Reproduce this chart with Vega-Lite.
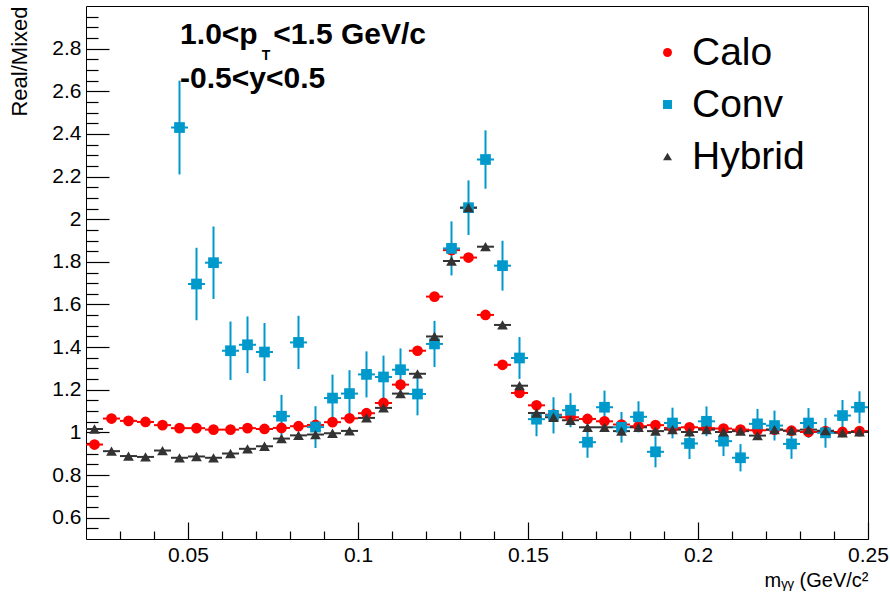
{
  "$schema": "https://vega.github.io/schema/vega-lite/v6.json",
  "width": 782,
  "height": 533,
  "autosize": {"type": "none"},
  "padding": {"left": 86, "top": 6, "right": 22, "bottom": 54},
  "background": "white",
  "config": {
    "view": {"stroke": "black", "strokeWidth": 1},
    "font": "Liberation Sans",
    "axis": {"grid": false, "domain": false, "tickColor": "black", "labelColor": "black", "titleColor": "black", "labelFont": "Liberation Sans", "titleFont": "Liberation Sans", "titleFontWeight": "normal"},
    "legend": {"orient": "none", "legendX": 562, "legendY": 27, "title": null, "labelFontSize": 39, "labelFont": "Liberation Sans", "labelColor": "black", "symbolSize": 80, "symbolStrokeWidth": 0, "rowPadding": 12, "labelOffset": 5, "labelLimit": 400}
  },
  "datasets": {
    "pts": [
      {"s":"Calo","x":0.0225,"y":0.943,"ex":0.0025},
      {"s":"Calo","x":0.0275,"y":1.065,"ex":0.0025},
      {"s":"Calo","x":0.0325,"y":1.054,"ex":0.0025},
      {"s":"Calo","x":0.0375,"y":1.049,"ex":0.0025},
      {"s":"Calo","x":0.0425,"y":1.034,"ex":0.0025},
      {"s":"Calo","x":0.0475,"y":1.020,"ex":0.0025},
      {"s":"Calo","x":0.0525,"y":1.020,"ex":0.0025},
      {"s":"Calo","x":0.0575,"y":1.013,"ex":0.0025},
      {"s":"Calo","x":0.0625,"y":1.013,"ex":0.0025},
      {"s":"Calo","x":0.0675,"y":1.020,"ex":0.0025},
      {"s":"Calo","x":0.0725,"y":1.016,"ex":0.0025},
      {"s":"Calo","x":0.0775,"y":1.021,"ex":0.0025},
      {"s":"Calo","x":0.0825,"y":1.029,"ex":0.0025},
      {"s":"Calo","x":0.0875,"y":1.035,"ex":0.0025},
      {"s":"Calo","x":0.0925,"y":1.048,"ex":0.0025},
      {"s":"Calo","x":0.0975,"y":1.066,"ex":0.0025},
      {"s":"Calo","x":0.1025,"y":1.090,"ex":0.0025},
      {"s":"Calo","x":0.1075,"y":1.138,"ex":0.0025},
      {"s":"Calo","x":0.1125,"y":1.224,"ex":0.0025},
      {"s":"Calo","x":0.1175,"y":1.383,"ex":0.0025},
      {"s":"Calo","x":0.1225,"y":1.637,"ex":0.0025},
      {"s":"Calo","x":0.1275,"y":1.855,"ex":0.0025},
      {"s":"Calo","x":0.1325,"y":1.820,"ex":0.0025},
      {"s":"Calo","x":0.1375,"y":1.551,"ex":0.0025},
      {"s":"Calo","x":0.1425,"y":1.317,"ex":0.0025},
      {"s":"Calo","x":0.1475,"y":1.185,"ex":0.0025},
      {"s":"Calo","x":0.1525,"y":1.127,"ex":0.0025},
      {"s":"Calo","x":0.1575,"y":1.083,"ex":0.0025},
      {"s":"Calo","x":0.1625,"y":1.071,"ex":0.0025},
      {"s":"Calo","x":0.1675,"y":1.063,"ex":0.0025},
      {"s":"Calo","x":0.1725,"y":1.052,"ex":0.0025},
      {"s":"Calo","x":0.1775,"y":1.037,"ex":0.0025},
      {"s":"Calo","x":0.1825,"y":1.029,"ex":0.0025},
      {"s":"Calo","x":0.1875,"y":1.034,"ex":0.0025},
      {"s":"Calo","x":0.1925,"y":1.021,"ex":0.0025},
      {"s":"Calo","x":0.1975,"y":1.024,"ex":0.0025},
      {"s":"Calo","x":0.2025,"y":1.020,"ex":0.0025},
      {"s":"Calo","x":0.2075,"y":1.018,"ex":0.0025},
      {"s":"Calo","x":0.2125,"y":1.013,"ex":0.0025},
      {"s":"Calo","x":0.2175,"y":1.010,"ex":0.0025},
      {"s":"Calo","x":0.2225,"y":1.013,"ex":0.0025},
      {"s":"Calo","x":0.2275,"y":1.008,"ex":0.0025},
      {"s":"Calo","x":0.2325,"y":1.002,"ex":0.0025},
      {"s":"Calo","x":0.2375,"y":1.006,"ex":0.0025},
      {"s":"Calo","x":0.2425,"y":1.002,"ex":0.0025},
      {"s":"Calo","x":0.2475,"y":1.006,"ex":0.0025},
      {"s":"Conv","x":0.0475,"y":2.430,"ex":0.0025,"ey":0.22},
      {"s":"Conv","x":0.0525,"y":1.696,"ex":0.0025,"ey":0.17},
      {"s":"Conv","x":0.0575,"y":1.796,"ex":0.0025,"ey":0.17},
      {"s":"Conv","x":0.0625,"y":1.383,"ex":0.0025,"ey":0.137},
      {"s":"Conv","x":0.0675,"y":1.411,"ex":0.0025,"ey":0.133},
      {"s":"Conv","x":0.0725,"y":1.377,"ex":0.0025,"ey":0.136},
      {"s":"Conv","x":0.0775,"y":1.076,"ex":0.0025,"ey":0.10},
      {"s":"Conv","x":0.0825,"y":1.422,"ex":0.0025,"ey":0.125},
      {"s":"Conv","x":0.0875,"y":1.025,"ex":0.0025,"ey":0.098},
      {"s":"Conv","x":0.0925,"y":1.161,"ex":0.0025,"ey":0.11},
      {"s":"Conv","x":0.0975,"y":1.182,"ex":0.0025,"ey":0.11},
      {"s":"Conv","x":0.1025,"y":1.272,"ex":0.0025,"ey":0.108},
      {"s":"Conv","x":0.1075,"y":1.260,"ex":0.0025,"ey":0.10},
      {"s":"Conv","x":0.1125,"y":1.294,"ex":0.0025,"ey":0.10},
      {"s":"Conv","x":0.1175,"y":1.180,"ex":0.0025,"ey":0.10},
      {"s":"Conv","x":0.1225,"y":1.415,"ex":0.0025,"ey":0.108},
      {"s":"Conv","x":0.1275,"y":1.863,"ex":0.0025,"ey":0.127},
      {"s":"Conv","x":0.1325,"y":2.054,"ex":0.0025,"ey":0.128},
      {"s":"Conv","x":0.1375,"y":2.280,"ex":0.0025,"ey":0.137},
      {"s":"Conv","x":0.1425,"y":1.782,"ex":0.0025,"ey":0.117},
      {"s":"Conv","x":0.1475,"y":1.349,"ex":0.0025,"ey":0.098},
      {"s":"Conv","x":0.1525,"y":1.062,"ex":0.0025,"ey":0.08},
      {"s":"Conv","x":0.1575,"y":1.080,"ex":0.0025,"ey":0.085},
      {"s":"Conv","x":0.1625,"y":1.104,"ex":0.0025,"ey":0.08},
      {"s":"Conv","x":0.1675,"y":0.954,"ex":0.0025,"ey":0.073},
      {"s":"Conv","x":0.1725,"y":1.118,"ex":0.0025,"ey":0.078},
      {"s":"Conv","x":0.1775,"y":1.024,"ex":0.0025,"ey":0.072},
      {"s":"Conv","x":0.1825,"y":1.073,"ex":0.0025,"ey":0.073},
      {"s":"Conv","x":0.1875,"y":0.909,"ex":0.0025,"ey":0.073},
      {"s":"Conv","x":0.1925,"y":1.044,"ex":0.0025,"ey":0.072},
      {"s":"Conv","x":0.1975,"y":0.948,"ex":0.0025,"ey":0.073},
      {"s":"Conv","x":0.2025,"y":1.052,"ex":0.0025,"ey":0.07},
      {"s":"Conv","x":0.2075,"y":0.959,"ex":0.0025,"ey":0.07},
      {"s":"Conv","x":0.2125,"y":0.881,"ex":0.0025,"ey":0.064},
      {"s":"Conv","x":0.2175,"y":1.040,"ex":0.0025,"ey":0.07},
      {"s":"Conv","x":0.2225,"y":1.032,"ex":0.0025,"ey":0.07},
      {"s":"Conv","x":0.2275,"y":0.946,"ex":0.0025,"ey":0.07},
      {"s":"Conv","x":0.2325,"y":1.044,"ex":0.0025,"ey":0.07},
      {"s":"Conv","x":0.2375,"y":0.998,"ex":0.0025,"ey":0.07},
      {"s":"Conv","x":0.2425,"y":1.079,"ex":0.0025,"ey":0.073},
      {"s":"Conv","x":0.2475,"y":1.118,"ex":0.0025,"ey":0.075},
      {"s":"Hybrid","x":0.0225,"y":1.016,"ex":0.0025},
      {"s":"Hybrid","x":0.0275,"y":0.912,"ex":0.0025},
      {"s":"Hybrid","x":0.0325,"y":0.889,"ex":0.0025},
      {"s":"Hybrid","x":0.0375,"y":0.885,"ex":0.0025},
      {"s":"Hybrid","x":0.0425,"y":0.915,"ex":0.0025},
      {"s":"Hybrid","x":0.0475,"y":0.881,"ex":0.0025},
      {"s":"Hybrid","x":0.0525,"y":0.887,"ex":0.0025},
      {"s":"Hybrid","x":0.0575,"y":0.881,"ex":0.0025},
      {"s":"Hybrid","x":0.0625,"y":0.901,"ex":0.0025},
      {"s":"Hybrid","x":0.0675,"y":0.923,"ex":0.0025},
      {"s":"Hybrid","x":0.0725,"y":0.935,"ex":0.0025},
      {"s":"Hybrid","x":0.0775,"y":0.971,"ex":0.0025},
      {"s":"Hybrid","x":0.0825,"y":0.986,"ex":0.0025},
      {"s":"Hybrid","x":0.0875,"y":0.990,"ex":0.0025},
      {"s":"Hybrid","x":0.0925,"y":0.996,"ex":0.0025},
      {"s":"Hybrid","x":0.0975,"y":1.007,"ex":0.0025},
      {"s":"Hybrid","x":0.1025,"y":1.068,"ex":0.0025},
      {"s":"Hybrid","x":0.1075,"y":1.115,"ex":0.0025},
      {"s":"Hybrid","x":0.1125,"y":1.182,"ex":0.0025},
      {"s":"Hybrid","x":0.1175,"y":1.275,"ex":0.0025},
      {"s":"Hybrid","x":0.1225,"y":1.450,"ex":0.0025},
      {"s":"Hybrid","x":0.1275,"y":1.804,"ex":0.0025},
      {"s":"Hybrid","x":0.1325,"y":2.054,"ex":0.0025},
      {"s":"Hybrid","x":0.1375,"y":1.871,"ex":0.0025},
      {"s":"Hybrid","x":0.1425,"y":1.504,"ex":0.0025},
      {"s":"Hybrid","x":0.1475,"y":1.219,"ex":0.0025},
      {"s":"Hybrid","x":0.1525,"y":1.091,"ex":0.0025},
      {"s":"Hybrid","x":0.1575,"y":1.071,"ex":0.0025},
      {"s":"Hybrid","x":0.1625,"y":1.057,"ex":0.0025},
      {"s":"Hybrid","x":0.1675,"y":1.024,"ex":0.0025},
      {"s":"Hybrid","x":0.1725,"y":1.024,"ex":0.0025},
      {"s":"Hybrid","x":0.1775,"y":1.006,"ex":0.0025},
      {"s":"Hybrid","x":0.1825,"y":1.024,"ex":0.0025},
      {"s":"Hybrid","x":0.1875,"y":1.006,"ex":0.0025},
      {"s":"Hybrid","x":0.1925,"y":1.013,"ex":0.0025},
      {"s":"Hybrid","x":0.1975,"y":1.002,"ex":0.0025},
      {"s":"Hybrid","x":0.2025,"y":1.013,"ex":0.0025},
      {"s":"Hybrid","x":0.2075,"y":1.002,"ex":0.0025},
      {"s":"Hybrid","x":0.2125,"y":1.006,"ex":0.0025},
      {"s":"Hybrid","x":0.2175,"y":0.985,"ex":0.0025},
      {"s":"Hybrid","x":0.2225,"y":1.013,"ex":0.0025},
      {"s":"Hybrid","x":0.2275,"y":1.008,"ex":0.0025},
      {"s":"Hybrid","x":0.2325,"y":1.013,"ex":0.0025},
      {"s":"Hybrid","x":0.2375,"y":1.008,"ex":0.0025},
      {"s":"Hybrid","x":0.2425,"y":0.998,"ex":0.0025},
      {"s":"Hybrid","x":0.2475,"y":1.002,"ex":0.0025}
    ],
    "notes": [
      {"x":0.04768,"y":2.823,"t":"1.0<p","k":"big"},
      {"x":0.07510,"y":2.823,"t":"<1.5 GeV/c","k":"big"},
      {"x":0.04768,"y":2.615,"t":"-0.5<y<0.5","k":"big"},
      {"x":0.07170,"y":2.748,"t":"T","k":"sub"}
    ]
  },
  "data": {"name": "pts"},
  "resolve": {"axis": {"x": "independent", "y": "independent"}},
  "layer": [
    {
      "mark": {"type": "point", "opacity": 0},
      "encoding": {
        "x": {"field": "x", "type": "quantitative", "scale": {"domain": [0.02, 0.25], "nice": false, "zero": false},
              "axis": {"orient": "bottom", "values": [0.05, 0.1, 0.15, 0.2, 0.25], "format": "~g", "ticks": false, "tickSize": 0, "labelPadding": 5, "labelFontSize": 21, "labelFlush": false,
                       "title": "mᵧᵧ (GeV/c²", "titleAnchor": "end", "titleFontSize": 20, "titlePadding": 5}},
        "y": {"field": "y", "type": "quantitative", "scale": {"domain": [0.5, 3.0], "nice": false, "zero": false},
              "axis": {"orient": "left", "values": [0.6, 0.8, 1.0, 1.2, 1.4, 1.6, 1.8, 2.0, 2.2, 2.4, 2.6, 2.8], "format": "~g", "ticks": false, "tickSize": 0, "labelPadding": 5, "labelFontSize": 21, "labelFlush": false,
                       "title": "Real/Mixed", "titleAnchor": "end", "titleFontSize": 22, "titlePadding": 20}}
      }
    },
    {
      "mark": {"type": "point", "opacity": 0},
      "encoding": {
        "x": {"field": "x", "type": "quantitative", "axis": {"orient": "top", "offset": -533, "values": [0.05, 0.1, 0.15, 0.2, 0.25], "labels": false, "ticks": true, "tickSize": 17, "tickWidth": 1.2, "title": null}},
        "y": {"field": "y", "type": "quantitative", "axis": {"orient": "right", "offset": -782, "values": [0.6, 0.8, 1.0, 1.2, 1.4, 1.6, 1.8, 2.0, 2.2, 2.4, 2.6, 2.8], "labels": false, "ticks": true, "tickSize": 23, "tickWidth": 1.2, "title": null}}
      }
    },
    {
      "mark": {"type": "point", "opacity": 0},
      "encoding": {
        "x": {"field": "x", "type": "quantitative", "axis": {"orient": "top", "offset": -533, "values": [0.03, 0.04, 0.06, 0.07, 0.08, 0.09, 0.11, 0.12, 0.13, 0.14, 0.16, 0.17, 0.18, 0.19, 0.21, 0.22, 0.23, 0.24], "labels": false, "ticks": true, "tickSize": 8, "tickWidth": 1.2, "title": null}},
        "y": {"field": "y", "type": "quantitative", "axis": {"orient": "right", "offset": -782, "values": [0.55, 0.65, 0.7, 0.75, 0.85, 0.9, 0.95, 1.05, 1.1, 1.15, 1.25, 1.3, 1.35, 1.45, 1.5, 1.55, 1.65, 1.7, 1.75, 1.85, 1.9, 1.95, 2.05, 2.1, 2.15, 2.25, 2.3, 2.35, 2.45, 2.5, 2.55, 2.65, 2.7, 2.75, 2.85, 2.9, 2.95], "labels": false, "ticks": true, "tickSize": 12, "tickWidth": 1.2, "title": null}}
      }
    },
    {
      "mark": {"type": "errorbar", "ticks": false, "thickness": 2},
      "encoding": {
        "x": {"field": "x", "type": "quantitative", "axis": null},
        "xError": {"field": "ex"},
        "y": {"field": "y", "type": "quantitative", "axis": null},
        "color": {"field": "s", "type": "nominal"}
      }
    },
    {
      "transform": [{"filter": "datum.s === 'Conv'"}],
      "mark": {"type": "errorbar", "ticks": false, "thickness": 2},
      "encoding": {
        "x": {"field": "x", "type": "quantitative", "axis": null},
        "y": {"field": "y", "type": "quantitative", "axis": null},
        "yError": {"field": "ey"},
        "color": {"field": "s", "type": "nominal"}
      }
    },
    {
      "mark": {"type": "point", "filled": true, "opacity": 1, "size": 115},
      "encoding": {
        "x": {"field": "x", "type": "quantitative", "axis": null},
        "y": {"field": "y", "type": "quantitative", "axis": null},
        "color": {"field": "s", "type": "nominal",
                  "scale": {"domain": ["Calo", "Conv", "Hybrid"], "range": ["#ff0000", "#0099cc", "#333333"]}},
        "shape": {"field": "s", "type": "nominal",
                  "scale": {"domain": ["Calo", "Conv", "Hybrid"], "range": ["circle", "square", "triangle-up"]}}
      }
    },
    {
      "data": {"name": "notes"},
      "transform": [{"filter": "datum.k === 'big'"}],
      "mark": {"type": "text", "font": "Liberation Sans", "fontWeight": "bold", "fontSize": 30, "align": "left", "baseline": "alphabetic", "color": "black"},
      "encoding": {
        "x": {"field": "x", "type": "quantitative", "axis": null},
        "y": {"field": "y", "type": "quantitative", "axis": null},
        "text": {"field": "t"}
      }
    },
    {
      "data": {"name": "notes"},
      "transform": [{"filter": "datum.k === 'sub'"}],
      "mark": {"type": "text", "font": "Liberation Sans", "fontWeight": "bold", "fontSize": 14, "align": "left", "baseline": "alphabetic", "color": "black"},
      "encoding": {
        "x": {"field": "x", "type": "quantitative", "axis": null},
        "y": {"field": "y", "type": "quantitative", "axis": null},
        "text": {"field": "t"}
      }
    }
  ]
}
